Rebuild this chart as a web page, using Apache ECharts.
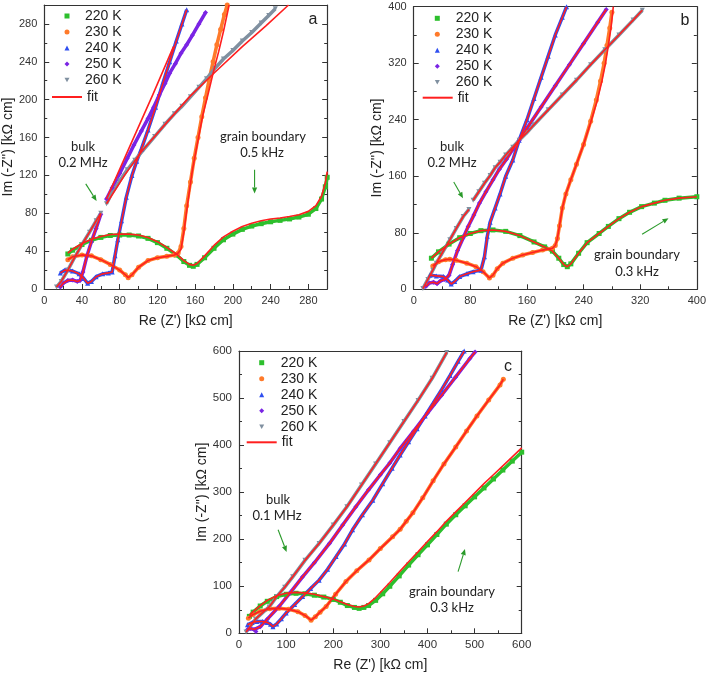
<!DOCTYPE html>
<html><head><meta charset="utf-8">
<script src="https://cdn.jsdelivr.net/npm/echarts@6/dist/echarts.min.js"></script>
<style>html,body{margin:0;padding:0;background:#fff}#chart{width:709px;height:676px}</style>
</head><body><div id="chart"></div>
<script>
// ---------- tick / label settings ----------
const tempNames = ['220 K','230 K','240 K','250 K','260 K'];
const fitName = 'fit';
const xTitle = "Re (Z') [kΩ cm]";
const yTitle = "Im (-Z'') [kΩ cm]";
const panelLetters = ['a','b','c'];
const axisMax = [300, 400, 600];
const axisInterval = [40, 80, 100];

// ---------- panel a ----------
const a220 = [[25,37],[30,41],[40,47],[50,51.5],[60,54.5],[70,56.5],[80,57],[90,57],[100,56],[110,53.5],[120,49],[130,43],[140,36],[148,29],[154,25],[158,24],[162,26],[170,33],[180,43],[190,52],[200,58],[210,63],[220,66.5],[230,69],[240,71],[250,72.5],[260,74],[270,76],[280,79],[288,85],[294,95],[298,108],[300,118]];
const a220fit = [[25,38],[30,42],[40,48],[50,52.5],[60,55.5],[70,57.5],[80,58],[90,58],[100,57],[110,54.5],[120,50],[130,44],[140,37],[148,30],[154,26],[158,25],[162,27],[170,35],[180,46],[190,55],[200,61],[210,66],[220,69.5],[230,72],[240,74],[250,75],[260,76.5],[270,78.5],[280,82],[288,88],[294,98],[298,112],[300,124]];
const a230 = [[25,31],[30,34],[40,36],[50,35],[60,31],[70,26],[80,20],[86,15],[89,12],[93,15],[100,23],[110,30],[120,33],[130,34.5],[138,36],[142,38],[145,45],[148,64],[151,88],[155,113],[159,138],[163,160],[167,182],[171,202],[175,222],[179,240],[183,258],[187,274],[191,290],[194,300]];
const a230fit = [[25,31],[30,34],[40,36],[50,35],[60,31],[70,26],[80,20],[86,15],[89,12],[93,15],[100,23],[110,30],[120,33],[130,34.5],[138,36],[142,38],[145,42],[148,60],[152,90],[157,125],[163,157],[168,183],[174,207],[180,232],[185,251],[190,272],[196,300]];
const a240 = [[17,17],[22,20],[30,19],[37,16],[42,11],[46,6],[50,8],[55,13],[62,16],[68,17],[72,18],[75,35],[78,52],[82,72],[87,97],[93,120],[98,135],[103,148],[110,168],[118,192],[126,218],[133,240],[140,262],[146,280],[151,295]];
const a250lo = [[17,2],[20,6],[25,9],[30,9.5],[35,8],[38,9],[41,18],[45,34],[50,50],[55,64],[60,79]];
const a250hi = [[66,95],[72,107],[80,122],[88,138],[95,152],[103,167],[110,180],[116,192],[122,205],[128,217],[133,228],[139,238],[145,249],[151,258],[157,268],[164,280],[171,292]];
const a250fit = [[66,95],[90,149],[115,205],[137,256]];
const a260lo = [[13,2],[18,8],[25,20],[32,33],[40,47],[48,60],[55,72],[60,80]];
const a260hi = [[66,90],[71,100],[80,114],[88,126],[96,136],[106,148],[117,161],[128,174],[138,185],[146,193],[155,203],[164,213],[172,222],[181,233],[190,243],[200,252],[210,262],[220,271],[230,281],[238,289],[245,296]];
const a260fit = [[66,90],[85,120],[103,145],[130,176],[155,204],[181,229],[210,256],[235,278],[259,300]];

// ---------- panel b ----------
const b220 = [[25,44],[35,53],[50,64],[65,73],[80,79],[95,83],[112,84],[130,82],[150,76],[170,67],[185,60],[196,54],[205,44],[212,35],[217,32],[222,36],[233,51],[245,66],[262,79],[275,89],[290,100],[305,109],[322,117],[340,122],[355,126],[375,129],[400,131]];
const b230 = [[27,33],[35,39],[45,42],[51,42.5],[60,41],[75,37],[88,32],[98,25],[107,16],[112,20],[118,29],[126,37],[140,44],[154,48.5],[168,52],[182,55.5],[196,58],[200,62],[203,72],[206,90],[210,115],[215,135],[222,155],[230,177],[240,205],[250,238],[258,268],[264,295],[269,320],[273,345],[277,370],[280,392]];
const b230fit = [[27,33],[35,39],[45,42],[51,42.5],[60,41],[75,37],[88,32],[98,25],[107,16],[112,20],[118,29],[126,37],[140,44],[154,48.5],[168,52],[182,55.5],[196,58],[200,62],[203,72],[206,90],[210,115],[215,135],[222,155],[230,177],[240,205],[250,236],[259,266],[266,295],[271,320],[275,345],[279,372],[282,400]];
const b240 = [[23,20],[32,19],[42,18],[48,13],[53,7.5],[58,11],[65,18],[75,22],[84,25],[95,27],[100,46],[104,75],[108,95],[115,115],[122,135],[130,160],[140,183],[149,211],[160,240],[170,270],[180,300],[190,330],[200,360],[210,385],[216,400]];
const b250 = [[17,4],[22,9],[28,10],[33,8],[38,12],[44,14],[50,20],[55,35],[62,55],[70,73],[77,89],[85,105],[93,122],[102,138],[112,155],[121,170],[131,184],[140,198],[149,211],[160,228],[180,258],[200,288],[220,318],[240,348],[260,378],[272,396]];
const b260lo = [[13,1],[20,14],[27,27],[32,37],[40,51],[51,70],[60,86],[70,103],[78,113]];
const b260hi = [[84,126],[92,138],[100,150],[108,161],[115,172],[122,180],[130,190],[140,201],[149,211],[160,222],[170,233],[190,254],[210,275],[230,296],[250,318],[270,339],[290,360],[310,381],[323,395]];

// ---------- panel c ----------
const c220 = [[22,36],[30,45],[45,58],[60,68],[80,78],[100,83],[121,85],[140,84],[160,81],[180,77],[200,72],[215,66],[230,59],[245,55],[255,53],[265,55],[275,59],[290,70],[305,84],[320,100],[340,122],[360,145],[380,167],[400,188],[420,210],[440,232],[460,252],[480,271],[500,290],[520,309],[540,328],[560,347],[580,366],[600,385]];
const c220fit = [[22,38],[30,46],[45,59],[60,70],[80,80],[100,85],[121,87],[140,86],[160,83],[180,78],[200,73],[215,67],[230,61],[245,57],[255,56],[265,58],[275,63],[290,76],[305,92],[320,108],[340,130],[360,152],[380,173],[400,195],[420,216],[440,238],[460,258],[480,278],[500,298],[520,318],[540,337],[560,356],[580,375],[600,394]];
const c230 = [[20,32],[30,40],[45,47],[65,52],[85,53],[105,51],[125,46],[140,38],[153,28],[162,35],[172,45],[185,57],[205,83],[227,110],[250,133],[276,156],[300,180],[326,205],[342,221],[355,238],[369,256],[390,288],[412,324],[435,360],[460,396],[483,430],[505,462],[530,496],[554,528],[561,540]];
const c240 = [[18,18],[28,23],[38,25],[50,25],[60,23],[67,19],[72,14],[80,20],[90,31],[100,43],[118,61],[135,78],[152,95],[170,113],[188,136],[206,163],[224,190],[241,220],[262,252],[284,283],[305,318],[325,351],[342,379],[360,407],[378,435],[395,462],[412,489],[430,518],[448,548],[465,578],[478,600]];
const c250 = [[18,8],[25,10],[32,8],[36,4],[45,14],[60,30],[85,57],[110,88],[135,120],[160,150],[192,191],[220,230],[248,269],[275,305],[300,337],[320,362],[342,393],[370,429],[400,468],[430,506],[460,545],[490,584],[501,598]];
const c260 = [[15,3],[25,16],[35,30],[50,44],[64,56],[80,78],[97,98],[114,120],[140,155],[170,191],[200,230],[229,269],[260,315],[290,360],[320,405],[350,450],[380,495],[410,542],[441,597]];

// ---------- annotation arrows (data coords: tail, head) ----------
const arrowsA = [[[44,111],[55.5,93]], [[223,126],[223,101]]];
const arrowsB = [[[56.6,152],[69.7,129]], [[322.7,78],[360,100.5]]];
const arrowsC = [[[83,220],[101,173]], [[465,131],[479.6,179]]];

// ---------- styles ----------
const colors = ['#2dbf2d','#ff7a2a','#2f4ff0','#7a24e4','#8090a0'];
const red = '#ff1f1f';
const arrowColor = '#2a9a2a';
const symbols = ['rect','circle','triangle','diamond','path://M0,0L10,0L5,9Z'];
const FONT = 'Liberation Sans';
const ANNOT = 'Lato';

const panels = [
  { left:42.7, top:5, width:284.5, height:284,
    data:[[a220],[a230],[a240],[a250lo,a250hi],[a260lo,a260hi]],
    fits:[a220fit,a230fit,a240,a250lo,a250fit,a260lo,a260fit], arrows:arrowsA, fs:11, hideMax:true },
  { left:413.7, top:6.7, width:284.6, height:282.6,
    data:[[b220],[b230],[b240],[b250],[b260lo,b260hi]],
    fits:[b220,b230fit,b240,b250,b260lo,b260hi], arrows:arrowsB, fs:11, hideMax:false },
  { left:239, top:351, width:282.7, height:282.3,
    data:[[c220],[c230],[c240],[c250],[c260]],
    fits:[c220fit,c230,c240,c250,c260], arrows:arrowsC, fs:11.5, hideMax:false }
];

const grid=[], xAxis=[], yAxis=[], series=[];
const axCol = '#333';
panels.forEach((p,g)=>{
  grid.push({left:p.left, top:p.top, width:p.width, height:p.height, containLabel:false});
  const common = {type:'value', gridIndex:g, min:0, max:axisMax[g], interval:axisInterval[g], splitLine:{show:false}};
  const lbl = {fontSize:p.fs, color:'#333', fontFamily:FONT, showMaxLabel:!p.hideMax};
  xAxis.push(Object.assign({}, common, {position:'bottom', name:xTitle, nameLocation:'middle', nameGap:25,
    nameTextStyle:{fontFamily:FONT, fontSize:14, color:'#222'},
    axisLine:{onZero:false, lineStyle:{color:axCol, width:1.2}},
    axisTick:{inside:true, length:5, lineStyle:{color:axCol}},
    minorTick:{show:true, splitNumber:2, length:3, lineStyle:{color:axCol}},
    axisLabel:Object.assign({margin:6}, lbl)}));
  xAxis.push(Object.assign({}, common, {position:'top',
    axisLine:{onZero:false, lineStyle:{color:axCol, width:1.2}}, axisTick:{show:false}, axisLabel:{show:false}}));
  yAxis.push(Object.assign({}, common, {position:'left', name:yTitle, nameLocation:'middle', nameGap:g===2?29:26,
    nameTextStyle:{fontFamily:FONT, fontSize:14, color:'#222'},
    axisLine:{onZero:false, lineStyle:{color:axCol, width:1.2}},
    axisTick:{inside:true, length:5, lineStyle:{color:axCol}},
    minorTick:{show:true, splitNumber:2, length:3, lineStyle:{color:axCol}},
    axisLabel:Object.assign({margin:7}, lbl)}));
  yAxis.push(Object.assign({}, common, {position:'right',
    axisLine:{onZero:false, lineStyle:{color:axCol, width:1.2}},
    axisTick:{inside:true, length:5, lineStyle:{color:axCol}},
    minorTick:{show:true, splitNumber:2, length:3, lineStyle:{color:axCol}},
    axisLabel:{show:false}}));

  p.data.forEach((parts,i)=>{
    parts.forEach(d=>{
      series.push({type:'line', name:tempNames[i], xAxisIndex:g*2, yAxisIndex:g*2, data:d,
        symbol:symbols[i], symbolSize:5, showSymbol:true, z:2,
        lineStyle:{color:colors[i], width:3.5}, itemStyle:{color:colors[i]}, emphasis:{disabled:true}});
    });
  });
  p.fits.forEach(d=>{
    series.push({type:'line', name:fitName, xAxisIndex:g*2, yAxisIndex:g*2, data:d,
      symbol:'none', z:3, lineStyle:{color:red, width:1.6}, itemStyle:{color:red}, emphasis:{disabled:true}});
  });
});

const legPos = [
  {mx:64.5, my:8, fx:52, fy:89, sp:10.5},
  {mx:434.8, my:10.3, fx:422.7, fy:89.7, sp:11},
  {mx:259.2, my:354.7, fx:246.7, fy:434.3, sp:11.5}
];
const legend=[];
legPos.forEach(L=>{
  legend.push({orient:'vertical', left:L.mx, top:L.my, itemWidth:5, itemHeight:5, itemGap:0, padding:0,
    selectedMode:false, formatter:n=>'{sp| }'+n,
    textStyle:{fontFamily:FONT, fontSize:14, color:'#222', lineHeight:16, rich:{sp:{width:L.sp, fontSize:14, lineHeight:16}}},
    data:tempNames.map((n,i)=>({name:n, icon:symbols[i]}))});
  legend.push({orient:'vertical', left:L.fx, top:L.fy, itemWidth:30, itemHeight:2, itemGap:0, padding:0,
    selectedMode:false, textStyle:{fontFamily:FONT, fontSize:14, color:'#222', lineHeight:16},
    data:[{name:fitName, icon:'rect'}]});
});

function label(x,y,t,size,font){
  return {type:'text', x:x, y:y, silent:true,
    style:{text:t, fontSize:size, fontFamily:font, fill:'#222', textAlign:'center', textVerticalAlign:'middle'}};
}
const graphic = [
  label(313,20,panelLetters[0],16,FONT),
  label(685,21,panelLetters[1],16,FONT),
  label(508,367,panelLetters[2],16,FONT),
  label(83,147,'bulk',13,ANNOT), label(83,163,'0.2 MHz',13,ANNOT),
  label(263,137,'grain boundary',13,ANNOT), label(262,153,'0.5 kHz',13,ANNOT),
  label(452,147,'bulk',13,ANNOT), label(452,163,'0.2 MHz',13,ANNOT),
  label(637,255,'grain boundary',13,ANNOT), label(637,272,'0.3 kHz',13,ANNOT),
  label(278,500,'bulk',13,ANNOT), label(277,516,'0.1 MHz',13,ANNOT),
  label(452,592,'grain boundary',13,ANNOT), label(452,608,'0.3 kHz',13,ANNOT)
];

const chart = echarts.init(document.getElementById('chart'), null, {renderer:'canvas'});
chart.setOption({animation:false, backgroundColor:'#fff', textStyle:{fontFamily:FONT},
  grid, xAxis, yAxis, legend, series, graphic});

// arrows: positioned through each panel's axes
const arrowGraphics = [];
panels.forEach((p,g)=>{
  p.arrows.forEach(a=>{
    const t = chart.convertToPixel({gridIndex:g}, a[0]);
    const h = chart.convertToPixel({gridIndex:g}, a[1]);
    const dx = h[0]-t[0], dy = h[1]-t[1], L = Math.sqrt(dx*dx+dy*dy);
    const ux = dx/L, uy = dy/L, hl = 6, hw = 2.6;
    const bx = h[0]-ux*hl, by = h[1]-uy*hl;
    arrowGraphics.push({type:'line', silent:true, shape:{x1:t[0], y1:t[1], x2:bx, y2:by},
      style:{stroke:arrowColor, lineWidth:1.1}});
    arrowGraphics.push({type:'polygon', silent:true,
      shape:{points:[[h[0],h[1]],[bx-uy*hw, by+ux*hw],[bx+uy*hw, by-ux*hw]]},
      style:{fill:arrowColor}});
  });
});
chart.setOption({graphic: graphic.concat(arrowGraphics)});
</script></body></html>
